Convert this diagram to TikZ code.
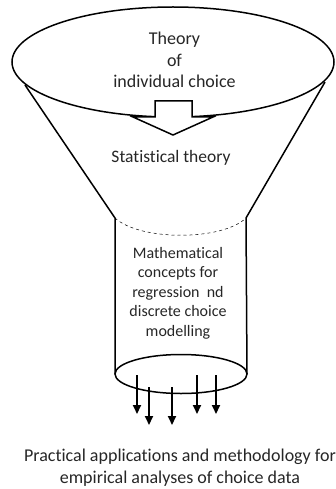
\documentclass[tikz,border=0pt]{standalone}
\usepackage{fontspec}
\setmainfont[Ligatures=CommonOff]{Carlito}
\usepackage{xcolor}
\usetikzlibrary{arrows.meta}
\definecolor{FunnelInk}{RGB}{0, 0, 0}
\definecolor{TextInk}{RGB}{38, 38, 38}

\begin{document}
\begin{tikzpicture}[x=1pt, y=-1pt,
    rim/.style={draw=FunnelInk, line width=1.5pt},
    label/.style={align=center, text=TextInk, inner sep=0pt},
    biglabel/.style={label, font=\fontsize{18}{21.8}\selectfont},
    smalllabel/.style={label, font=\fontsize{16}{19.5}\selectfont},
    outflow/.style={draw=FunnelInk, line width=2.1pt, -{Triangle[width=8pt,length=9pt]}}
]
    \useasboundingbox (0,0) rectangle (335,489);

    % funnel cone
    \coordinate (coneTL) at (25,85);
    \coordinate (coneTR) at (325,82);
    \coordinate (tubeTL) at (115,218);
    \coordinate (tubeTR) at (246,218);
    \coordinate (tubeBL) at (115,374);
    \coordinate (tubeBR) at (247,374);
    \draw[rim] (coneTL) -- (tubeTL) -- (tubeBL);
    \draw[rim] (coneTR) -- (tubeTR) -- (tubeBR);
    \draw[FunnelInk, dashed, line width=0.5pt] (tubeTL) .. controls (140,241) and (222,241) .. (tubeTR);

    % rims
    \draw[rim, fill=white] (173,62) ellipse [x radius=161, y radius=55];
    \draw[rim] (181,374) ellipse [x radius=66, y radius=19.5];

    % block arrow down
    \draw[rim, fill=white, line join=miter]
        (155,101) -- (192,101) -- (192,117) -- (213,117) -- (173,135)
        -- (133,117) -- (155,117) -- cycle;

    % texts
    \node[biglabel] (theory) at (174.5,60) {Theory\\of\\individual choice};
    \node[biglabel, font=\fontsize{17.5}{21}\selectfont] (stats) at (171,158) {Statistical theory};
    \node[smalllabel] (maths) at (178,293) {Mathematical\\concepts for\\regression\ \ nd\\discrete choice\\modelling};
    \node[biglabel] (practice) at (180,468) {Practical applications and methodology for\\empirical analyses of choice data};

    % outflow arrows
    \foreach \px/\ys/\ye [count=\i] in {137/375/414, 149/387/425, 172/387/425, 197/375/414, 216/375/414} {
        \coordinate (out\i a) at (\px,\ys);
        \coordinate (out\i b) at (\px,\ye);
        \draw[outflow] (out\i a) -- (out\i b);
    }
\end{tikzpicture}
\end{document}
